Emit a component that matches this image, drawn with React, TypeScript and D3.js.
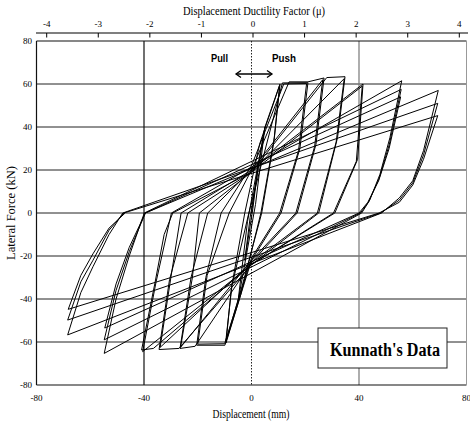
import React from 'react';
import * as d3 from 'd3';

type P = [number, number];

const xTicks = [-80, -40, 0, 40, 80];
const yTicks = [80, 60, 40, 20, 0, -20, -40, -60, -80];
const muTicks = [-4, -3, -2, -1, 0, 1, 2, 3, 4];
const yGrid = [60, 40, 20, 0, -20, -40, -60];

// Hysteresis path (displacement mm, lateral force kN)
const preYield: P[] = [
  [0, 0], [2.5, 22], [0.5, 2], [-2.5, -22], [-0.5, -2], [5, 40], [1.5, 4], [-5, -41], [-1.5, -4],
];
const level10: P[] = [
  [-1.5, -4], [5, 40], [10.6, 60], [8.5, 35], [3.5, 0], [-4, -38], [-9.5, -60.5], [-7.5, -35], [-2.5, 0],
  [3, 32], [10.5, 59.5], [8.3, 33], [3.8, 0], [-3.5, -34], [-9.6, -60], [-7.3, -34], [-1, 0],
];
const level20: P[] = [
  [-1, 0], [11.5, 60.5], [21, 60.6], [18, 30], [11, 0], [0, -22], [-9.9, -61.5], [-20.4, -61.5], [-17, -30], [-11.3, 0],
  [0, 22], [12, 60], [20.5, 60.2], [17.5, 29], [10.5, 0], [0, -21], [-10, -60.8], [-20, -61], [-16.5, -29], [-8.3, 0],
];
const level27: P[] = [
  [-8.3, 0], [0, 20], [14, 61], [21, 61], [27, 62.8], [24, 32], [17, 0], [0, -23], [-21, -62], [-26.6, -63], [-22.5, -30], [-16.3, 0],
  [0, 20], [26.5, 62], [23.5, 31], [16.5, 0], [0, -22], [-26.4, -62.5], [-22, -30], [-19.4, 0],
];
const level35: P[] = [
  [-19.4, 0], [0, 19], [28, 63], [34.8, 63.4], [32, 35], [25, 0], [0, -24], [-27, -63], [-34.4, -63.5], [-30.5, -31], [-23.7, 0],
  [0, 19], [34.5, 62.5], [31.5, 33], [24.5, 0], [0, -23], [-34, -62.5], [-30, -30], [-26.2, 0],
];
const level41: P[] = [
  [-26.2, 0], [0, 20], [41.5, 60], [39.5, 25], [31, 0], [0, -24], [-36.5, -63], [-40.9, -63.7], [-36, -33], [-32.5, -10], [-29.3, 0],
  [0, 19], [41.2, 59], [39, 24], [30.5, 0], [0, -24], [-40.5, -64.5], [-35.5, -32], [-29.8, 0],
];
const level55: P[] = [
  [-29.8, 0], [55.9, 61.5], [51.5, 35], [47.8, 18], [44, 6], [41, 0],
  [-54.8, -65.3], [-50.4, -40], [-45.5, -20], [-39.9, 0],
  [55.7, 57.5], [51.3, 32], [47.5, 16], [43.5, 5], [40.5, 0],
  [-54.8, -59], [-50.4, -36], [-45.5, -18], [-39.5, 0],
  [55.5, 54], [51.2, 30], [47.3, 15], [43.3, 5], [40, 0],
  [-54.6, -53.5], [-50.4, -33], [-45.5, -16], [-39.5, 0],
];
const level69: P[] = [
  [-39.5, 0], [69.5, 57], [64, 29], [60, 15], [55, 7], [48.4, 0],
  [-68.4, -56.7], [-63.5, -37], [-59, -25], [-53, -10], [-47.9, 0],
  [69.3, 51], [64, 27], [60, 14], [55, 6], [48, 0],
  [-68.4, -49.8], [-63.5, -32], [-59, -22], [-53, -8], [-47.5, 0],
  [69.3, 45.3], [64, 25], [60, 13], [55, 5], [47.5, 0],
  [-68.2, -44.8], [-63.5, -29], [-59, -19], [-53, -7], [-47, 0],
];
const loops: P[][] = [preYield, level10, level20, level27, level35, level41, level55, level69];

const serif = '"Liberation Serif", "Times New Roman", serif';
const sans = '"Liberation Sans", Arial, sans-serif';

export default function App() {
  const W = 470, H = 426;
  const x = d3.scaleLinear().domain([-80, 80]).range([36.5, 466.5]);
  const y = d3.scaleLinear().domain([-80, 80]).range([385, 41]);
  const mu = d3.scaleLinear().domain([-4, 4]).range([46.7, 459.3]);
  const line = d3.line<P>().x(d => x(d[0])).y(d => y(d[1]));
  const topY = 33;

  return (
    <svg width={W} height={H} viewBox={`0 0 ${W} ${H}`}
      style={{ position: 'absolute', left: 0, top: 0, background: '#fff' }}>
      <rect x={0} y={0} width={W} height={H} fill="#fff" />
      {/* horizontal gridlines */}
      {yGrid.map(v => (
        <line key={'h' + v} x1={x(-80)} x2={x(80)} y1={y(v)} y2={y(v)} stroke="#222" strokeWidth={1} />
      ))}
      {/* vertical gridlines */}
      <line x1={x(-40)} x2={x(-40)} y1={y(80)} y2={y(-80)} stroke="#111" strokeWidth={1.2} />
      <line x1={x(0)} x2={x(0)} y1={y(80)} y2={y(-80)} stroke="#222" strokeWidth={1} strokeDasharray="1.5,1.5" />
      <line x1={x(40)} x2={x(40)} y1={y(80)} y2={y(-80)} stroke="#777" strokeWidth={1.2} />
      {/* frame */}
      <line x1={x(-80)} x2={x(80)} y1={y(80)} y2={y(80)} stroke="#111" strokeWidth={1.2} />
      <line x1={x(-80)} x2={x(80)} y1={y(-80)} y2={y(-80)} stroke="#111" strokeWidth={1.2} />
      <line x1={x(-80)} x2={x(-80)} y1={y(80)} y2={y(-80)} stroke="#111" strokeWidth={1.2} />
      <line x1={x(80)} x2={x(80)} y1={y(80)} y2={y(-80)} stroke="#999" strokeWidth={1} />

      {/* hysteresis loops */}
      {loops.map((pts, i) => (
        <path key={'l' + i} d={line(pts) || ''} fill="none" stroke="#000" strokeWidth={1} strokeLinejoin="miter" />
      ))}

      {/* top axis (ductility) */}
      <line x1={36} x2={468} y1={topY} y2={topY} stroke="#000" strokeWidth={1.2} />
      {muTicks.map(t => (
        <g key={'m' + t}>
          <line x1={mu(t)} x2={mu(t)} y1={topY} y2={topY + 4.5} stroke="#000" strokeWidth={1} />
          <text x={mu(t)} y={topY - 6} fontFamily={serif} fontSize={9} textAnchor="middle">{t}</text>
        </g>
      ))}
      <text x={254} y={15} fontFamily={serif} fontSize={12} textAnchor="middle" textLength={142} lengthAdjust="spacingAndGlyphs">
        Displacement Ductility Factor (μ)
      </text>

      {/* left axis labels */}
      {yTicks.map(t => (
        <text key={'y' + t} x={32} y={y(t) + 3} fontFamily={serif} fontSize={9} textAnchor="end">{t}</text>
      ))}
      <text transform={`translate(15,${y(0)}) rotate(-90)`} fontFamily={serif} fontSize={11.5} textAnchor="middle"
        textLength={94} lengthAdjust="spacingAndGlyphs">Lateral Force (kN)</text>

      {/* bottom axis labels */}
      {xTicks.map(t => (
        <text key={'x' + t} x={x(t)} y={401} fontFamily={serif} fontSize={9} textAnchor="middle">{t}</text>
      ))}
      <text x={251} y={418} fontFamily={serif} fontSize={11.5} textAnchor="middle" textLength={77} lengthAdjust="spacingAndGlyphs">
        Displacement (mm)
      </text>

      {/* Pull / Push annotation */}
      <text x={219.5} y={62} fontFamily={sans} fontWeight="bold" fontSize={11} textAnchor="middle" textLength={17} lengthAdjust="spacingAndGlyphs">Pull</text>
      <text x={284} y={62} fontFamily={sans} fontWeight="bold" fontSize={11} textAnchor="middle" textLength={24} lengthAdjust="spacingAndGlyphs">Push</text>
      <g stroke="#000" strokeWidth={1.3} fill="none">
        <line x1={236} x2={272} y1={74} y2={74} />
        <polyline points="241,70.5 236,74 241,77.5" />
        <polyline points="267,70.5 272,74 267,77.5" />
      </g>

      {/* legend box */}
      <rect x={318} y={328} width={129} height={40} fill="#fff" stroke="#222" strokeWidth={1} />
      <text x={385} y={355.5} fontFamily={serif} fontWeight="bold" fontSize={18} textAnchor="middle" textLength={110} lengthAdjust="spacingAndGlyphs">
        Kunnath's Data
      </text>
    </svg>
  );
}
